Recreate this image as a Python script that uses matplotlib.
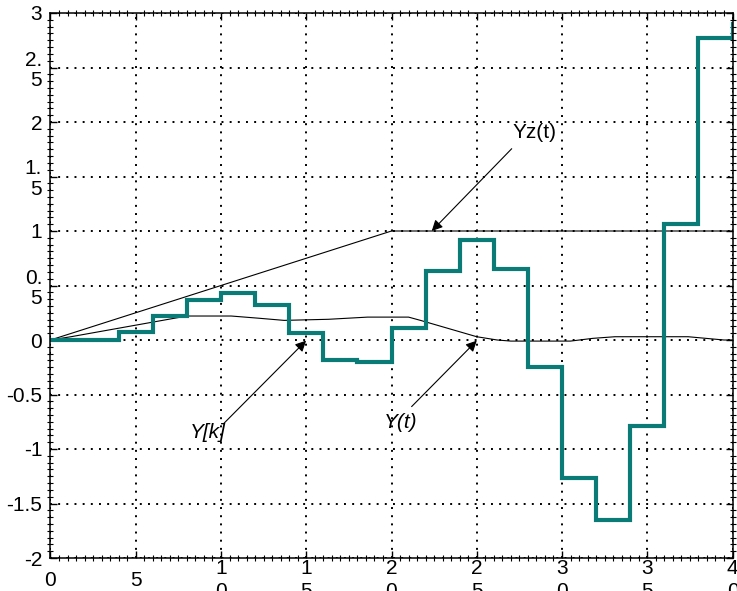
import matplotlib
matplotlib.use("Agg")
import matplotlib.pyplot as plt
from matplotlib.ticker import MultipleLocator

plt.rcParams['font.family'] = ['Liberation Sans', 'DejaVu Sans']

# Discrete control samples Y[k] (sampling period 2)
k_time = [0, 2, 4, 6, 8, 10, 12, 14, 16, 18, 20, 22, 24, 26, 28, 30, 32, 34, 36, 38, 40]
y_k = [0, 0, 0.07, 0.22, 0.37, 0.43, 0.32, 0.06, -0.18, -0.20, 0.11, 0.63,
       0.92, 0.65, -0.25, -1.27, -1.65, -0.79, 1.06, 2.77, 2.90]

# Reference trajectory Yz(t)
yz_time = [0, 20, 40]
yz_vals = [0, 1, 1]

# Continuous plant output Y(t)
yt_time = [0, 1.2, 8, 10.6, 12.2, 13.7, 16.3, 18.6, 21.0, 21.7, 25, 26.2, 27,
           30.5, 31.8, 33.1, 37.4, 39.5, 40]
yt_vals = [0, 0.03, 0.22, 0.22, 0.20, 0.18, 0.19, 0.21, 0.21, 0.18, 0.03, 0.0,
           -0.01, -0.01, 0.015, 0.03, 0.03, 0.0, 0.0]

x_ticks = [0, 5, 10, 15, 20, 25, 30, 35, 40]
x_labels = ["0", "5", "1\n0", "1\n5", "2\n0", "2\n5", "3\n0", "3\n5", "4\n0"]
y_ticks = [3, 2.5, 2, 1.5, 1, 0.5, 0, -0.5, -1, -1.5, -2]
y_labels = ["3", "2.\n5", "2", "1.\n5", "1", "0.\n5", "0", "-0.5", "-1", "-1.5", "-2"]

fig = plt.figure(figsize=(7.37, 5.91), dpi=100)
ax = fig.add_axes([50.5 / 737, 1 - 558 / 591, (732.5 - 50.5) / 737, (558 - 13) / 591])

ax.plot(yz_time, yz_vals, color='black', lw=0.8)
ax.plot(yt_time, yt_vals, color='black', lw=0.8)
ax.step(k_time, y_k, where='post', color='#0b7b78', lw=3.0, solid_joinstyle='miter')

ax.set_xlim(0, 40)
ax.set_ylim(-2, 3)
ax.set_xticks(x_ticks)
ax.set_xticklabels(x_labels, fontsize=15, linespacing=1.3, va='center')
ax.set_yticks(y_ticks)
ax.set_yticklabels(y_labels, fontsize=15, linespacing=1.1)
ax.xaxis.set_minor_locator(MultipleLocator(0.5))
ax.yaxis.set_minor_locator(MultipleLocator(0.0625))

ax.tick_params(which='major', direction='in', length=5, width=1, top=True, right=True)
ax.tick_params(axis='x', which='major', pad=16)
ax.tick_params(axis='y', which='major', pad=6)
ax.tick_params(which='minor', direction='inout', length=4, width=0.8, top=True, right=True)

ax.grid(True, which='major', color='black', linestyle=(0, (1, 3.2)), lw=1.4)
for s in ax.spines.values():
    s.set_linewidth(1.1)

arrow = dict(arrowstyle='-|>', color='black', lw=0.8, mutation_scale=16, shrinkA=0, shrinkB=0)
ax.annotate('', xy=(22.36, 1.0), xytext=(27.05, 1.755), arrowprops=arrow)
ax.text(28.36, 1.905, 'Yz(t)', fontsize=15, ha='center', va='center')
ax.annotate('', xy=(14.99, -0.006), xytext=(10.18, -0.763), arrowprops=arrow)
ax.text(9.21, -0.847, 'Y[k]', fontsize=15, style='italic', ha='center', va='center')
ax.annotate('', xy=(25.0, -0.006), xytext=(21.18, -0.611), arrowprops=arrow)
ax.text(20.56, -0.755, 'Y(t)', fontsize=15, style='italic', ha='center', va='center')

fig.savefig('out.png', dpi=100)
